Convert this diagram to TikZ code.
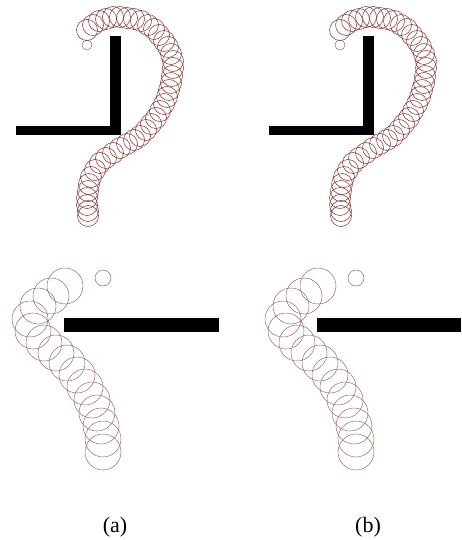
\documentclass[tikz,border=0pt]{standalone}
\usepackage{fontspec}
\setmainfont{Liberation Serif}
\usepackage{tikz}
\definecolor{trailTop}{RGB}{125,45,45}
\definecolor{trailBot}{RGB}{150,105,105}
\tikzset{
  %% obstacles
  wall/.style={fill=black, draw=none},
  %% goal marker
  goalTop/.style={draw=gray!85!blue, line width=0.5pt},
  goalBot/.style={draw=gray!80!red, line width=0.5pt},
  %% robot footprints
  robotTop/.style={draw=trailTop, line width=0.5pt},
  robotBot/.style={draw=trailBot, line width=0.5pt},
  %% caption
  panellabel/.style={font=\fontsize{22}{24}\selectfont, inner sep=0pt},
}

\begin{document}
\begin{tikzpicture}[x=1pt, y=-1pt]
\useasboundingbox (0,0) rectangle (461,540);

\foreach \dx/\barend in {0/219, 253/208}{
  \begin{scope}[xshift=\dx pt]
  % upper case: L-shaped wall
  \fill[wall] (110,36) rectangle (121,135);
  \fill[wall] (16,126) rectangle (121,135);
  \draw[goalTop] (87,45) circle (5);
  \foreach \cx/\cy in {87/30, 93/25, 99/21, 106/19, 113/17, 120/17, 127/18, 134/19,
      141/21, 148/25, 154/29, 159/35, 164/41, 168/47, 171/54, 173/61, 173/68, 172/76,
      171/83, 169/90, 167/97, 164/104, 160/111, 156/118, 151/124, 146/130, 140/136,
      134/140, 127/144, 120/148, 113/153, 106/158, 100/163, 95/170, 91/177, 89/184,
      88/191, 87/198, 87/205, 88/211, 88/216}
    \draw[robotTop] (\cx,\cy) circle (10.5);

  % lower case: straight wall
  \fill[wall] (64,318) rectangle (\barend,332);
  \draw[goalBot] (103,278) circle (8);
  \foreach \cx/\cy in {65/286, 51/296, 38/306, 30/319, 33/331, 44/343, 56/353, 67/363,
      77/375, 85/387, 92/400, 97/413, 101/426, 103/439, 103/452}
    \draw[robotBot] (\cx,\cy) circle (18);
  \end{scope}
}

\node[panellabel] (lblA) at (115,527) {(a)};
\node[panellabel] (lblB) at (368,527) {(b)};

\end{tikzpicture}
\end{document}
